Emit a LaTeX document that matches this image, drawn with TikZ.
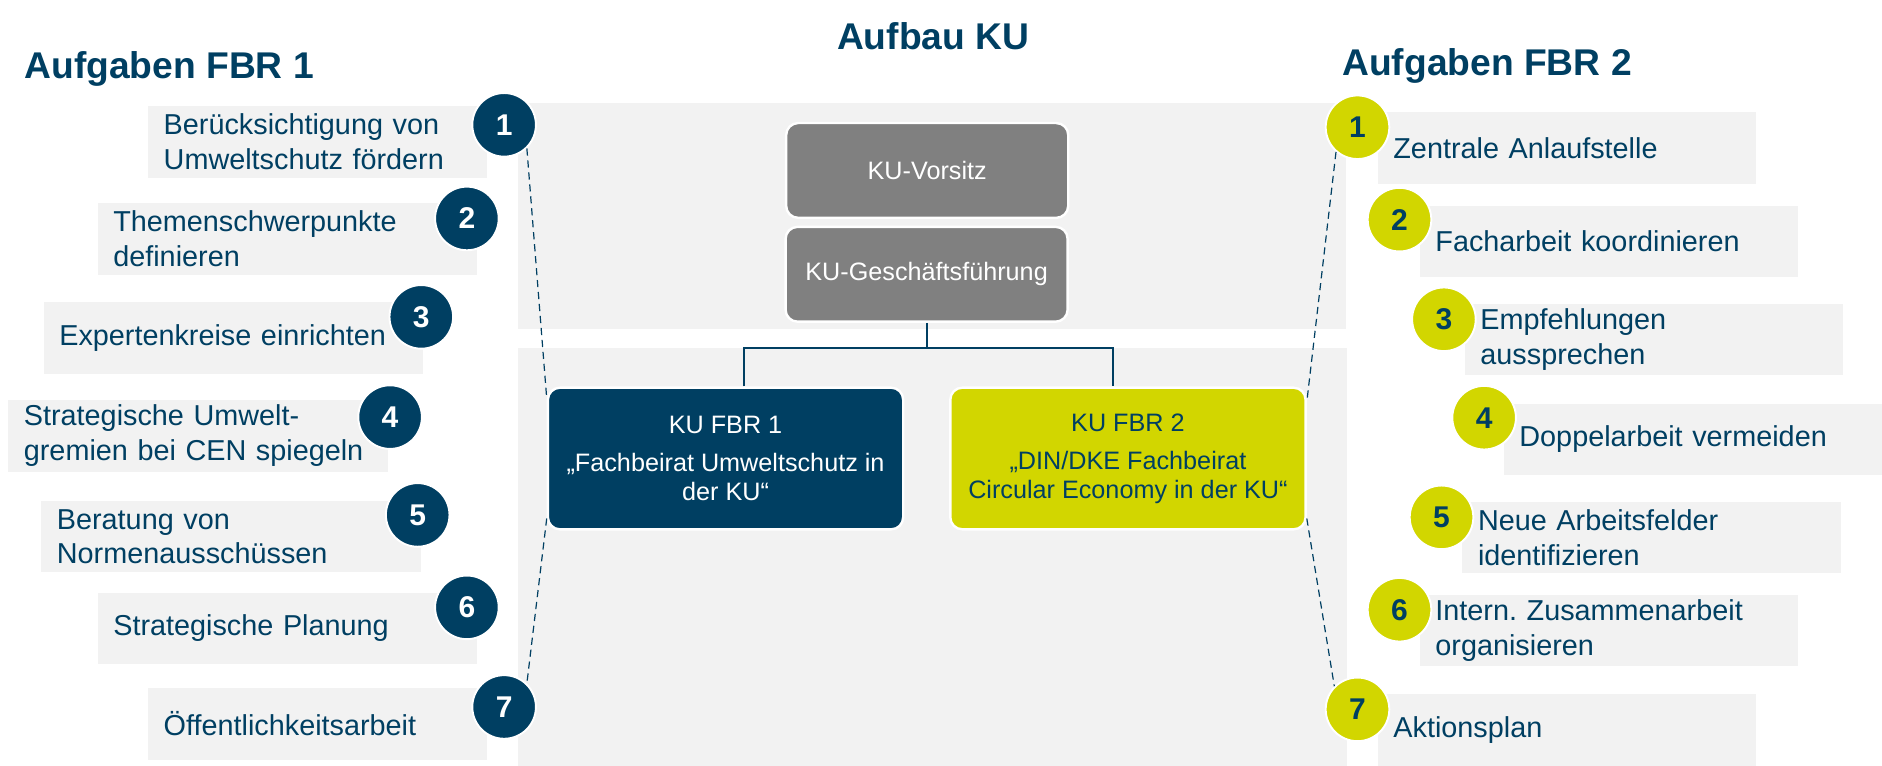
\documentclass[tikz,border=0pt]{standalone}
\usepackage{fontspec}
\setmainfont{Liberation Sans}
\usepackage{tikz}
\usetikzlibrary{positioning}
\definecolor{dinblue}{HTML}{003F62}
\definecolor{dinyellow}{HTML}{D2D600}
\definecolor{kugray}{HTML}{808080}
\definecolor{bglight}{HTML}{F2F2F2}
\tikzstyle{title} = [text=dinblue, font=\bfseries\fontsize{15.5}{18}\selectfont, anchor=base west, inner sep=0pt]
\tikzstyle{task} = [fill=bglight, text=dinblue, font=\fontsize{12}{14.5}\selectfont, anchor=north west, align=left, inner xsep=6.5pt, inner ysep=0pt, minimum height=29.75pt]
\tikzstyle{numa} = [circle, fill=dinblue, draw=white, line width=0.8pt, minimum size=26.5pt, inner sep=0pt, text=white, font=\bfseries\fontsize{12.5}{12.5}\selectfont]
\tikzstyle{numb} = [numa, fill=dinyellow, text=dinblue]
\tikzstyle{ku} = [rounded corners=5pt, draw=white, line width=1pt, fill=kugray, text=white, minimum width=117.5pt, minimum height=39.5pt, font=\fontsize{10.5}{12}\selectfont, align=center]
\tikzstyle{fbr} = [ku, minimum width=148pt, minimum height=59pt]
\tikzstyle{tree} = [draw=dinblue, line width=0.8pt]
\tikzstyle{link} = [draw=dinblue, line width=0.5pt, dash pattern=on 3pt off 2pt]

\begin{document}
\frenchspacing
\begin{tikzpicture}[x=0.5pt, y=-0.5pt]
	\useasboundingbox (0,0) rectangle (1568,638);
	\fill[bglight] (431.5,86) rectangle (1121.5,274);
	\fill[bglight] (431.5,290) rectangle (1122.5,638);
	\node[title] (headA) at (20,65) {Aufgaben FBR 1};
	\node[title] (headK) at (697,41) {Aufbau KU};
	\node[title] (headB) at (1118,63.3) {Aufgaben FBR 2};
	\node[task, text width=128pt] (ta1) at (123,88) {Berücksichtigung von\\Umweltschutz fördern};
	\node[task, text width=145pt] (ta2) at (81,169) {Themenschwerpunkte\\definieren};
	\node[task, text width=145pt] (ta3) at (36,251.5) {Expertenkreise einrichten};
	\node[task, text width=145pt] (ta4) at (6.5,333) {Strategische Umwelt-\\gremien bei CEN spiegeln};
	\node[task, text width=145pt] (ta5) at (34,417) {Beratung von\\Normenausschüssen};
	\node[task, text width=145pt] (ta6) at (81,493.5) {Strategische Planung};
	\node[task, text width=128pt] (ta7) at (123,573) {Öffentlichkeitsarbeit};
	\node[task, text width=144.75pt] (tb1) at (1147.5,93) {Zentrale Anlaufstelle};
	\node[task, text width=144.75pt] (tb2) at (1182.5,171) {Facharbeit koordinieren};
	\node[task, text width=144.75pt] (tb3) at (1220,252.5) {Empfehlungen\\aussprechen};
	\node[task, text width=144.75pt] (tb4) at (1252.5,336) {Doppelarbeit vermeiden};
	\node[task, text width=144.75pt] (tb5) at (1218,417.5) {Neue Arbeitsfelder\\identifizieren};
	\node[task, text width=144.75pt] (tb6) at (1182.5,495) {Intern.\ Zusammenarbeit\\organisieren};
	\node[task, text width=144.75pt] (tb7) at (1147.5,578) {Aktionsplan};
	\node[ku] (kuv) at (772.5,142) {KU-Vorsitz};
	\node[ku] (kugf) at (772,228.5) {KU-Geschäftsführung};
	\node[fbr, fill=dinblue] (fbrA) at (604.5,382) {KU FBR 1\\[4pt]„Fachbeirat Umweltschutz in\\der KU“};
	\node[fbr, fill=dinyellow, text=dinblue] (fbrB) at (939.75,382) {KU FBR 2\\[4pt]„DIN/DKE Fachbeirat\\Circular Economy in der KU“};
	\coordinate (forkA) at (620,290);
	\coordinate (forkB) at (927,290);
	\draw[tree] (kugf.south) -- (kugf.south |- forkA);
	\draw[tree] (forkA |- fbrA.north) -- (forkA) -- (forkB) -- (forkB |- fbrB.north);
	\node[numa] (na1) at (420,104) {1};
	\node[numa] (na2) at (389,182) {2};
	\node[numa] (na3) at (351,264) {3};
	\node[numa] (na4) at (325,347.5) {4};
	\node[numa] (na5) at (348,429) {5};
	\node[numa] (na6) at (389,506) {6};
	\node[numa] (na7) at (420,589) {7};
	\node[numb] (nb1) at (1131,106) {1};
	\node[numb] (nb2) at (1166,183) {2};
	\node[numb] (nb3) at (1203,266) {3};
	\node[numb] (nb4) at (1236.5,348) {4};
	\node[numb] (nb5) at (1201,431) {5};
	\node[numb] (nb6) at (1166,508) {6};
	\node[numb] (nb7) at (1131,591) {7};
	\draw[link] (na1.-46) -- ([yshift=-5pt]fbrA.north west);
	\draw[link] ([yshift=5pt]fbrA.south west) -- (na7.46);
	\draw[link] (nb1.-131) -- ([yshift=-6.5pt]fbrB.north east);
	\draw[link] ([yshift=5pt]fbrB.south east) -- (nb7.135);
\end{tikzpicture}
\end{document}
